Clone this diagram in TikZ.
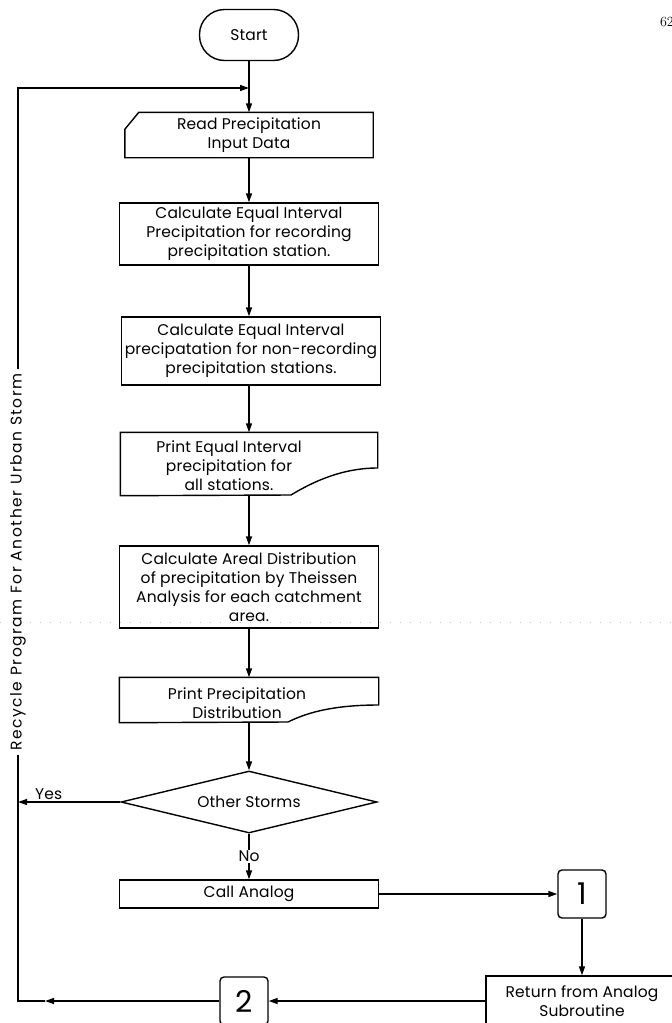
\documentclass[tikz,border=0pt]{standalone}
\usepackage{fontspec}
\usetikzlibrary{arrows.meta,shapes.geometric}
\newfontfamily\leroy[LetterSpace=1]{Poppins}

\begin{document}
\begin{tikzpicture}[x=1pt, y=-1pt, line width=1.4pt,
  >={Triangle[length=9pt,width=6pt]},
  font=\leroy\fontsize{15.5}{19}\selectfont,
  procbox/.style={draw, rectangle, align=center, minimum width=259pt, inner sep=1pt},
  shapebox/.style={rectangle, align=center, inner sep=0pt},
  numbox/.style={draw, rectangle, rounded corners=4pt, minimum width=48pt,
    minimum height=48pt, font=\leroy\fontsize{30}{32}\selectfont}]

\useasboundingbox (0,0) rectangle (672,1023);

% scan mark across the page
\draw[gray!45, line width=1pt, dash pattern=on 1pt off 9pt] (0,622) -- (672,622);

\node[font=\rmfamily\fontsize{14}{16}\selectfont, anchor=west] (pagenum) at (656,22) {62};

% main column
\node[draw, rounded corners=25pt, minimum width=99pt, minimum height=51pt] (start) at (249,35) {Start};

\node[shapebox, minimum width=247pt, minimum height=44pt] (read) at (249,135) {Read Precipitation\\Input Data};
\draw ([xshift=14pt]read.north west) -- (read.north east) -- (read.south east)
  -- (read.south west) -- ([yshift=-17pt]read.north west) -- cycle;

\node[procbox, minimum height=62pt] (calc1) at (249,234)
  {Calculate Equal Interval\\Precipitation for recording\\precipitation station.};

\node[procbox, minimum height=68pt] (calc2) at (251,351)
  {Calculate Equal Interval\\precipatation for non-recording\\precipitation stations.};

\node[shapebox, minimum width=256pt, minimum height=62pt] (print1) at (249,464) {};
\node[shapebox] (print1txt) at (229,466) {Print Equal Interval\\precipitation for\\all stations.};
\draw (print1.south west) -- (291,495) .. controls (314,481) and (343,468) .. (print1.east |- 0,468)
  -- (print1.north east) -- (print1.north west) -- cycle;

\node[procbox, minimum height=82pt] (areal) at (249,587)
  {Calculate Areal Distribution\\of precipitation by Theissen\\Analysis for each catchment\\area.};

\node[shapebox, minimum width=258pt, minimum height=44pt] (print2) at (249,700) {};
\node[shapebox] (print2txt) at (237,703) {Print Precipitation\\Distribution};
\draw (print2.south west) -- (288,722) .. controls (310,711) and (338,705) .. (print2.east |- 0,705)
  -- (print2.north east) -- (print2.north west) -- cycle;

\node[draw, diamond, aspect=4, minimum width=256pt, minimum height=62pt, inner sep=0pt] (other) at (249,802) {Other Storms};

\node[procbox, minimum height=28pt] (call) at (249,894) {Call Analog};

% subroutine connectors
\node[numbox] (one) at (582,894) {1};
\node[draw, rectangle, align=center, minimum width=192pt, minimum height=50pt, inner sep=2pt] (ret) at (582,1001)
  {Return from Analog\\Subroutine};
\node[numbox] (two) at (244,1001) {2};

\coordinate (loopbl) at (18,1001);
\coordinate (looptl) at (18,88);
\coordinate (join) at (249,88);
\coordinate (turn) at (45,1001);

\draw[->] (start) -- (read);
\draw[->] (read) -- (calc1);
\draw[->] (calc1) -- (calc2.north -| calc1);
\draw[->] (calc2.south -| calc1) -- (print1);
\draw[->] (print1) -- (areal);
\draw[->] (areal) -- (print2);
\draw[->] (print2) -- (other);
\draw[->] (other) -- node[fill=white, inner sep=1pt] (no) {No} (call);
\draw[->] (other) -- node[above, pos=0.7, inner sep=2pt] (yes) {Yes} (other -| loopbl);
\draw[->] (call) -- (one);
\draw[->] (one) -- (ret);
\draw[->] (ret) -- (two);

% recycle loop
\draw[->] (two) -- (turn);
\draw[->] (turn) -- (loopbl) -- (looptl) -- (join);
\node[rotate=90, fill=white, inner sep=4pt, font=\leroy\fontsize{15.5}{19}\selectfont\addfontfeature{LetterSpace=10}]
  (recycle) at (18,562) {Recycle Program For Another Urban Storm};

\end{tikzpicture}
\end{document}
